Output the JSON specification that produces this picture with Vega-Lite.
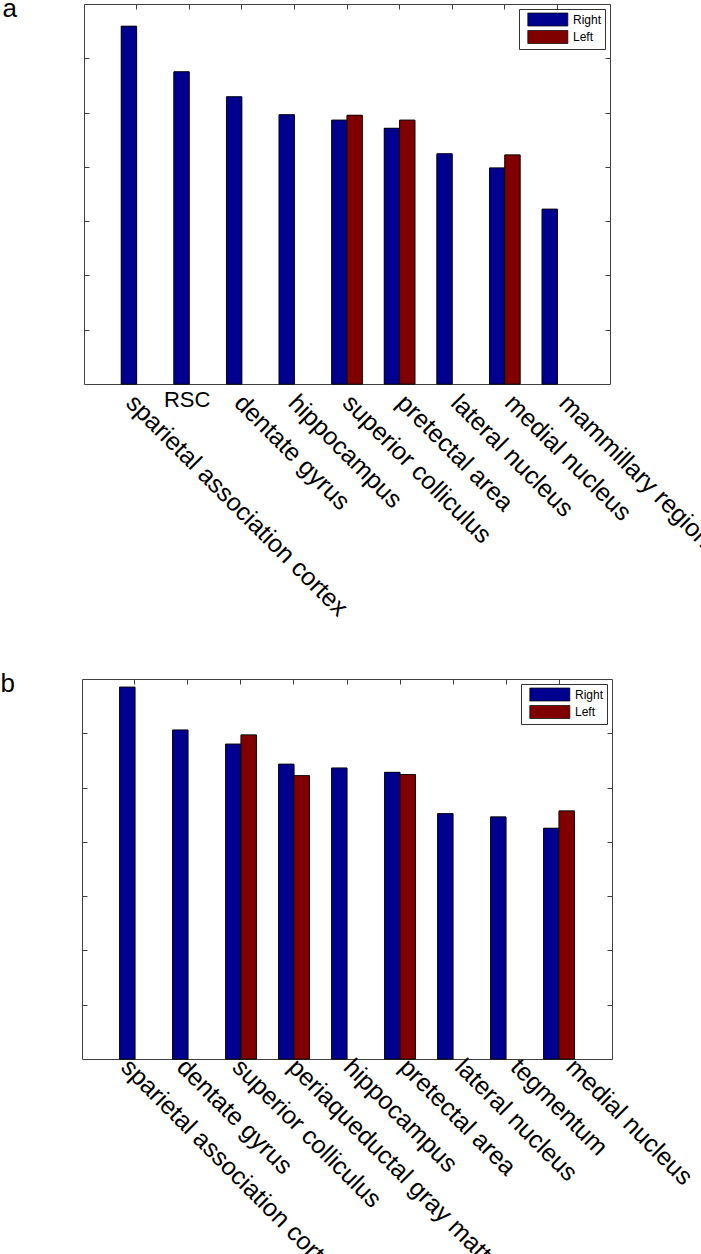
{
  "$schema": "https://vega.github.io/schema/vega-lite/v6.json",
  "padding": {"left": 0, "top": -5, "right": 0, "bottom": 0},
  "background": "white",
  "datasets": {
    "a": [
      {"region": "sparietal association cortex", "side": "Right", "value": 6.59},
      {"region": "RSC", "side": "Right", "value": 5.75},
      {"region": "dentate gyrus", "side": "Right", "value": 5.29},
      {"region": "hippocampus", "side": "Right", "value": 4.96},
      {"region": "superior colliculus", "side": "Right", "value": 4.86},
      {"region": "superior colliculus", "side": "Left", "value": 4.95},
      {"region": "pretectal area", "side": "Right", "value": 4.71},
      {"region": "pretectal area", "side": "Left", "value": 4.86},
      {"region": "lateral nucleus", "side": "Right", "value": 4.24},
      {"region": "medial nucleus", "side": "Right", "value": 3.98},
      {"region": "medial nucleus", "side": "Left", "value": 4.22},
      {"region": "mammillary region", "side": "Right", "value": 3.22}
    ],
    "b": [
      {"region": "sparietal association cortex", "side": "Right", "value": 6.85},
      {"region": "dentate gyrus", "side": "Right", "value": 6.06},
      {"region": "superior colliculus", "side": "Right", "value": 5.80},
      {"region": "superior colliculus", "side": "Left", "value": 5.97},
      {"region": "periaqueductal gray matter", "side": "Right", "value": 5.43},
      {"region": "periaqueductal gray matter", "side": "Left", "value": 5.22},
      {"region": "hippocampus", "side": "Right", "value": 5.36},
      {"region": "pretectal area", "side": "Right", "value": 5.28},
      {"region": "pretectal area", "side": "Left", "value": 5.24},
      {"region": "lateral nucleus", "side": "Right", "value": 4.52},
      {"region": "tegmentum", "side": "Right", "value": 4.46},
      {"region": "medial nucleus", "side": "Right", "value": 4.25},
      {"region": "medial nucleus", "side": "Left", "value": 4.57}
    ]
  },
  "config": {
    "font": "Liberation Sans",
    "view": {"stroke": "#404040", "strokeWidth": 1},
    "axis": {"grid": false, "domain": false, "tickColor": "#404040", "tickWidth": 1, "title": null},
    "bar": {"stroke": "#000000", "strokeWidth": 0.7},
    "legend": {
      "orient": "top-right", "offset": 5, "padding": 3.5, "rowPadding": 1.5,
      "fillColor": "#ffffff", "strokeColor": "#333333", "cornerRadius": 0,
      "symbolType": "M-0.26,-1H5.9V1H-0.26Z", "symbolSize": 169,
      "symbolStrokeColor": "#000000", "symbolStrokeWidth": 0.7, "symbolOpacity": 1,
      "labelOffset": 36.5, "labelFontSize": 12, "labelFont": "Liberation Sans", "labelColor": "#000000"
    },
    "title": {"fontSize": 26, "fontWeight": "normal", "color": "#000000", "font": "Liberation Sans", "anchor": "start", "frame": "group", "offset": 0, "baseline": "alphabetic", "dx": -81.5, "dy": 22}
  },
  "vconcat": [
    {
      "width": 526, "height": 380,
      "data": {"name": "a"},
      "title": {"text": "a"},
      "layer": [
        {
          "mark": "bar",
          "encoding": {
            "x": {"field": "region", "type": "nominal", "sort": null, "scale": {"paddingInner": 0.418, "paddingOuter": 0.709},
              "axis": {"orient": "bottom", "ticks": false, "labelAngle": {"expr": "datum.value === 'RSC' ? 0 : 45"}, "labelAlign": {"condition": {"test": "datum.value === 'RSC'", "value": "center"}, "value": "left"}, "labelFontSize": {"condition": {"test": "datum.value === 'RSC'", "value": 22}, "value": 25}, "labelBaseline": "top", "labelColor": "#000000", "labelPadding": 5.8, "labelLimit": 600, "labelOverlap": false,
                "labelOffset": {"expr": "datum.value === 'RSC' ? -2 : 2.2 + 12.3 * datum.index"},
                "encode": {"labels": {"update": {"dy": {"signal": "datum.value === 'RSC' ? 11 : 0"}}}}}},
            "xOffset": {"field": "side", "type": "nominal", "scale": {"domain": ["Right", "Left"], "paddingInner": 0, "paddingOuter": 0}},
            "y": {"field": "value", "type": "quantitative", "scale": {"domain": [0, 7], "nice": false},
              "axis": {"orient": "left", "labels": false, "values": [1, 2, 3, 4, 5, 6], "tickSize": -5}},
            "color": {"field": "side", "type": "nominal", "scale": {"domain": ["Right", "Left"], "range": ["#00008F", "#800000"]}, "legend": {"title": null}}
          }
        },
        {
          "mark": "bar",
          "encoding": {
            "x": {"field": "region", "type": "nominal", "sort": null, "scale": {"paddingInner": 0.418, "paddingOuter": 0.709},
              "axis": {"orient": "top", "labels": false, "tickSize": -5}},
            "xOffset": {"field": "side", "type": "nominal", "scale": {"domain": ["Right", "Left"], "paddingInner": 0, "paddingOuter": 0}},
            "y": {"field": "value", "type": "quantitative", "scale": {"domain": [0, 7], "nice": false},
              "axis": {"orient": "right", "labels": false, "values": [1, 2, 3, 4, 5, 6], "tickSize": -5}},
            "color": {"field": "side", "type": "nominal", "scale": {"domain": ["Right", "Left"], "range": ["#00008F", "#800000"]}, "legend": {"title": null}}
          }
        }
      ],
      "resolve": {"axis": {"x": "independent", "y": "independent"}}
    },
    {
      "width": 530, "height": 380,
      "data": {"name": "b"},
      "title": {"text": "b"},
      "layer": [
        {
          "mark": "bar",
          "encoding": {
            "x": {"field": "region", "type": "nominal", "sort": null, "scale": {"paddingInner": 0.418, "paddingOuter": 0.709},
              "axis": {"orient": "bottom", "ticks": false, "labelAngle": 45, "labelAlign": "left", "labelBaseline": "top", "labelFontSize": 25, "labelColor": "#000000", "labelPadding": -5, "labelLimit": 600, "labelOverlap": false,
                "labelOffset": {"expr": "-1 + 21 * datum.index"}}},
            "xOffset": {"field": "side", "type": "nominal", "scale": {"domain": ["Right", "Left"], "paddingInner": 0, "paddingOuter": 0}},
            "y": {"field": "value", "type": "quantitative", "scale": {"domain": [0, 7], "nice": false},
              "axis": {"orient": "left", "labels": false, "values": [1, 2, 3, 4, 5, 6], "tickSize": -5}},
            "color": {"field": "side", "type": "nominal", "scale": {"domain": ["Right", "Left"], "range": ["#00008F", "#800000"]}, "legend": {"title": null}}
          }
        },
        {
          "mark": "bar",
          "encoding": {
            "x": {"field": "region", "type": "nominal", "sort": null, "scale": {"paddingInner": 0.418, "paddingOuter": 0.709},
              "axis": {"orient": "top", "labels": false, "tickSize": -5}},
            "xOffset": {"field": "side", "type": "nominal", "scale": {"domain": ["Right", "Left"], "paddingInner": 0, "paddingOuter": 0}},
            "y": {"field": "value", "type": "quantitative", "scale": {"domain": [0, 7], "nice": false},
              "axis": {"orient": "right", "labels": false, "values": [1, 2, 3, 4, 5, 6], "tickSize": -5}},
            "color": {"field": "side", "type": "nominal", "scale": {"domain": ["Right", "Left"], "range": ["#00008F", "#800000"]}, "legend": {"title": null}}
          }
        }
      ],
      "resolve": {"axis": {"x": "independent", "y": "independent"}}
    }
  ],
  "spacing": 295,
  "bounds": "flush",
  "center": true,
  "resolve": {"scale": {"x": "independent", "y": "independent", "xOffset": "independent", "color": "independent"}, "legend": {"color": "independent"}}
}
